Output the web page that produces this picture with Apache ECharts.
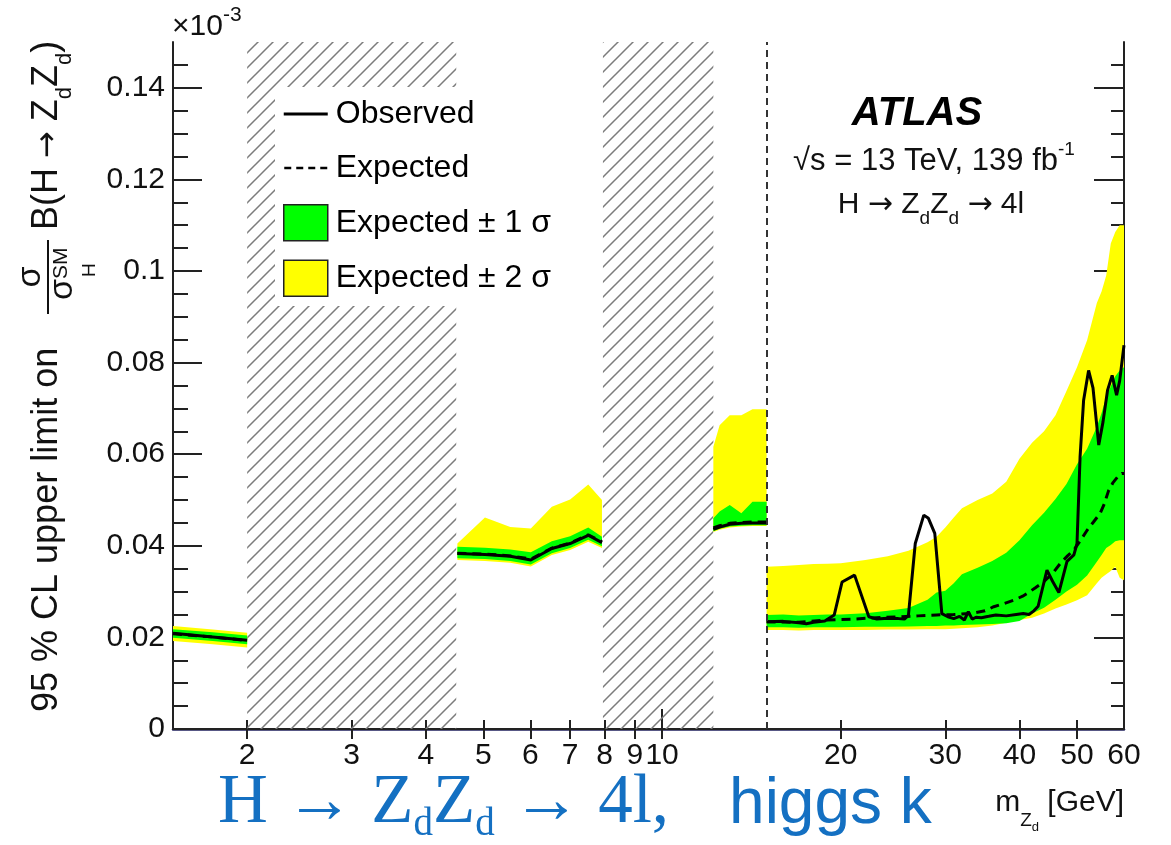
<!DOCTYPE html>
<html>
<head>
<meta charset="utf-8">
<script src="https://cdn.jsdelivr.net/npm/echarts@6/dist/echarts.min.js"></script>
<style>html,body{margin:0;padding:0;background:#fff}#chart{width:1171px;height:845px}</style>
</head>
<body>
<div id="chart"></div>
<script>
// ---------------- data ----------------
// Segment A : 1.5 - 2 GeV
const massA  = [1.5, 1.75, 2.0];
const obsA   = [0.0209, 0.0201, 0.0194];
const expA   = [0.0208, 0.0201, 0.0193];
const g1upA  = [0.0218, 0.0211, 0.0204];
const g1dnA  = [0.0199, 0.0192, 0.0185];
const y2upA  = [0.0225, 0.0217, 0.0210];
const y2dnA  = [0.0192, 0.0185, 0.0178];
// Segment B : 4.5 - 8 GeV
const massB  = [4.52, 5.03, 5.55, 6.01, 6.52, 7.0, 7.51, 7.92];
const obsB   = [0.0383, 0.0381, 0.0377, 0.0369, 0.0394, 0.0405, 0.0423, 0.0407];
const expB   = [0.0384, 0.0382, 0.0378, 0.0371, 0.0395, 0.0406, 0.0424, 0.0409];
const g1upB  = [0.0398, 0.0396, 0.0392, 0.0386, 0.0410, 0.0421, 0.0440, 0.0420];
const g1dnB  = [0.0373, 0.0371, 0.0367, 0.0359, 0.0384, 0.0395, 0.0413, 0.0399];
const y2upB  = [0.0405, 0.0462, 0.0441, 0.0438, 0.0485, 0.0501, 0.0534, 0.0500];
const y2dnB  = [0.0369, 0.0367, 0.0363, 0.0355, 0.0380, 0.0391, 0.0409, 0.0395];
// Segment C : 12.2 - 15 GeV
const massC  = [12.2, 12.5, 13.0, 13.6, 14.2, 15.0];
const obsC   = [0.0436, 0.0441, 0.0447, 0.0449, 0.0450, 0.0450];
const expC   = [0.0439, 0.0444, 0.0449, 0.0451, 0.0452, 0.0452];
const g1upC  = [0.0460, 0.0475, 0.0489, 0.0471, 0.0496, 0.0496];
const g1dnC  = [0.0432, 0.0437, 0.0442, 0.0444, 0.0445, 0.0445];
const y2upC  = [0.0616, 0.0663, 0.0685, 0.0685, 0.0698, 0.0698];
const y2dnC  = [0.0430, 0.0435, 0.0440, 0.0442, 0.0443, 0.0443];
// Segment D : 15 - 60 GeV
const obsMassD = [15.0, 16.0, 17.0, 17.5, 18.0, 18.8, 19.5, 20.1, 21.1, 22.3, 23.0, 24.0, 25.0, 25.6, 26.0, 26.7, 27.6, 28.1, 28.8, 29.6, 30.3, 31.0, 31.7, 32.3, 32.8, 33.3, 33.8, 34.5, 35.5, 36.5, 38.0, 39.5, 40.6, 41.5, 42.3, 43.0, 44.5, 45.5, 46.6, 48.1, 49.4, 50.0, 50.6, 51.3, 52.3, 53.2, 54.4, 55.3, 56.3, 57.3, 58.3, 59.0, 60.0];
const obsD     = [0.0234, 0.0235, 0.0232, 0.0230, 0.0233, 0.0236, 0.0249, 0.0321, 0.0336, 0.0245, 0.0240, 0.0242, 0.0241, 0.0240, 0.0248, 0.0405, 0.0467, 0.0460, 0.0427, 0.0252, 0.0245, 0.0241, 0.0246, 0.0238, 0.0256, 0.0240, 0.0244, 0.0243, 0.0246, 0.0249, 0.0247, 0.0250, 0.0252, 0.0250, 0.0258, 0.0268, 0.0347, 0.0322, 0.0298, 0.0366, 0.0380, 0.0405, 0.0594, 0.0718, 0.0783, 0.0745, 0.0620, 0.0670, 0.0740, 0.0772, 0.0729, 0.0760, 0.0838];
const expMassD = [15, 17, 19, 21, 23, 25, 27, 29, 31, 33, 35, 36.2, 37.5, 39.1, 40.5, 41.2, 42.5, 43.9, 45.5, 46.9, 48.2, 49.4, 50.7, 52.0, 53.3, 54.7, 55.6, 56.5, 57.5, 58.5, 59.5, 60];
const expD     = [0.0234, 0.0233, 0.0238, 0.0240, 0.0243, 0.0245, 0.0247, 0.0249, 0.0250, 0.0252, 0.0258, 0.0267, 0.0273, 0.0281, 0.0290, 0.0296, 0.0308, 0.0321, 0.0340, 0.0362, 0.0378, 0.0391, 0.0412, 0.0434, 0.0452, 0.0471, 0.0492, 0.0520, 0.0538, 0.0550, 0.0558, 0.0558];
const bandMassD = [15, 16, 17, 18, 19, 20, 22, 24, 26, 28, 29, 30, 31, 32, 34, 36, 38, 40, 42, 44, 46, 48, 50, 52, 54, 55, 56, 57, 58, 59, 60];
const g1upD = [0.0249, 0.0250, 0.0248, 0.0249, 0.0250, 0.0250, 0.0253, 0.0258, 0.0264, 0.0282, 0.0298, 0.0302, 0.0318, 0.0338, 0.0352, 0.0367, 0.0385, 0.0412, 0.0445, 0.0472, 0.0502, 0.0535, 0.0578, 0.0612, 0.0660, 0.0690, 0.0725, 0.0748, 0.0770, 0.0783, 0.0790];
const g1dnD = [0.0222, 0.0222, 0.0221, 0.0222, 0.0222, 0.0222, 0.0223, 0.0223, 0.0224, 0.0225, 0.0225, 0.0226, 0.0226, 0.0227, 0.0228, 0.0229, 0.0231, 0.0236, 0.0252, 0.0265, 0.0282, 0.0300, 0.0315, 0.0335, 0.0365, 0.0380, 0.0395, 0.0402, 0.0410, 0.0412, 0.0412];
const y2upD = [0.0354, 0.0356, 0.0358, 0.0360, 0.0361, 0.0362, 0.0369, 0.0377, 0.0389, 0.0408, 0.0420, 0.0440, 0.0462, 0.0482, 0.0500, 0.0514, 0.0540, 0.0590, 0.0625, 0.0650, 0.0685, 0.0738, 0.0790, 0.0849, 0.0930, 0.0955, 0.0990, 0.1060, 0.1085, 0.1100, 0.1100];
const y2dnD = [0.0216, 0.0216, 0.0215, 0.0216, 0.0216, 0.0216, 0.0216, 0.0217, 0.0217, 0.0218, 0.0218, 0.0218, 0.0219, 0.0220, 0.0222, 0.0226, 0.0232, 0.0238, 0.0243, 0.0252, 0.0263, 0.0272, 0.0281, 0.0292, 0.0318, 0.0330, 0.0338, 0.0345, 0.0354, 0.0330, 0.0325];
// excluded (hatched) mass ranges and the boundary marker
const hatchRanges = [[2.0, 4.5], [7.95, 12.2]];
const boundaryMass = 15;
// axis ticks / labels
const xLabelValues = [2, 3, 4, 5, 6, 7, 8, 9, 10, 20, 30, 40, 50, 60];
const xMinorTicks  = [2, 3, 4, 5, 6, 7, 8, 9, 20, 30, 40, 50];
const xMajorTicks  = [10];
const yMajorTicks  = [0, 0.02, 0.04, 0.06, 0.08, 0.1, 0.12, 0.14];
const yMinorTicks  = [0.005, 0.01, 0.015, 0.025, 0.03, 0.035, 0.045, 0.05, 0.055, 0.065, 0.07, 0.075, 0.085, 0.09, 0.095, 0.105, 0.11, 0.115, 0.125, 0.13, 0.135, 0.145];

// ---------------- chart ----------------
const SANS = '"Liberation Sans", Arial, Helvetica, sans-serif';
const SERIF = '"Liberation Serif", "Times New Roman", serif';
const ARROW = '"DejaVu Sans", sans-serif';
const BLUE = '#1470c2';

function pairs(ms, vs) { return ms.map((m, i) => [m, vs[i]]); }

function hatchCanvas() {
  const s = 15;
  const c = document.createElement('canvas');
  c.width = s; c.height = s;
  const g = c.getContext('2d');
  g.strokeStyle = '#7c7c7c';
  g.lineWidth = 1.5;
  g.beginPath();
  g.moveTo(-1, s + 1); g.lineTo(s + 1, -1);
  g.moveTo(-s / 2 - 1, s / 2 + 1); g.lineTo(s / 2 + 1, -s / 2 - 1);
  g.moveTo(s / 2 - 1, s * 1.5 + 1); g.lineTo(s * 1.5 + 1, s / 2 - 1);
  g.stroke();
  return c;
}

const yellowSegs = [[massA, y2upA, y2dnA], [massB, y2upB, y2dnB], [massC, y2upC, y2dnC], [bandMassD, y2upD, y2dnD]];
const greenSegs  = [[massA, g1upA, g1dnA], [massB, g1upB, g1dnB], [massC, g1upC, g1dnC], [bandMassD, g1upD, g1dnD]];
const obsSegs = [[massA, obsA], [massB, obsB], [massC, obsC], [obsMassD, obsD]];
const expSegs = [[massA, expA], [massB, expB], [massC, expC], [expMassD, expD]];

function bandSeries(name, color, segs) {
  return {
    type: 'custom', name: name, xAxisIndex: 0, yAxisIndex: 0, silent: true,
    data: segs.map(s => [s[0][0], s[1][0]]),
    encode: { x: 0, y: 1 },
    itemStyle: { color: color },
    renderItem: function (params, api) {
      const s = segs[params.dataIndex];
      const pts = [];
      for (let i = 0; i < s[0].length; i++) pts.push(api.coord([s[0][i], s[1][i]]));
      for (let i = s[0].length - 1; i >= 0; i--) pts.push(api.coord([s[0][i], s[2][i]]));
      return { type: 'polygon', shape: { points: pts }, style: { fill: color } };
    }
  };
}

const series = [];
series.push(bandSeries('Expected ± 2 σ', '#ffff00', yellowSegs));
series.push(bandSeries('Expected ± 1 σ', '#00ff00', greenSegs));
expSegs.forEach(s => series.push({
  type: 'line', name: 'Expected', data: pairs(s[0], s[1]), symbol: 'none', silent: true,
  lineStyle: { color: '#000', width: 3, type: [9, 6] }, itemStyle: { color: '#000' }
}));
obsSegs.forEach((s, k) => {
  const o = {
    type: 'line', name: 'Observed', data: pairs(s[0], s[1]), symbol: 'none', silent: true,
    lineStyle: { color: '#000', width: 3 }, itemStyle: { color: '#000' }
  };
  if (k === 0) {
    o.markArea = {
      silent: true,
      itemStyle: { color: { image: hatchCanvas(), repeat: 'repeat' } },
      data: hatchRanges.map(r => [{ coord: [r[0], 0] }, { coord: [r[1], 0.15] }])
    };
    o.markLine = {
      silent: true, symbol: ['none', 'none'], label: { show: false },
      lineStyle: { color: '#333', width: 2, type: [7, 5] },
      data: [[{ coord: [boundaryMass, 0] }, { coord: [boundaryMass, 0.15] }]]
    };
  }
  series.push(o);
});

// legend icons: solid and dashed line glyphs with a 44x36 bounding box
const ICON_SOLID  = 'path://M0,0h0.05v0.05h-0.05z M0,16.5h44v3h-44z M0,35.95h0.05v0.05h-0.05z';
const ICON_DASHED = 'path://M0,0h0.05v0.05h-0.05z M0,16.75h7v2.5h-7z M12,16.75h7v2.5h-7z M24,16.75h7v2.5h-7z M36,16.75h7v2.5h-7z M0,35.95h0.05v0.05h-0.05z';

const xBase = { type: 'log', logBase: 10, min: 1.5, max: 60, gridIndex: 0, splitLine: { show: false } };
const yBase = { type: 'value', min: 0, max: 0.15, interval: 0.02, gridIndex: 0, splitLine: { show: false } };
const tickLine = { color: '#222', width: 2 };

const option = {
  animation: false,
  backgroundColor: '#fff',
  textStyle: { fontFamily: SANS },
  grid: { left: 173, right: 47, top: 42, bottom: 116, containLabel: false },
  xAxis: [
    Object.assign({}, xBase, {
      position: 'bottom',
      axisLine: { show: true, lineStyle: { color: '#22225e', width: 2.5 } },
      axisTick: { show: true, inside: true, length: 9, customValues: xMinorTicks, lineStyle: tickLine },
      axisLabel: { show: true, customValues: xLabelValues, formatter: v => String(Math.round(v)), fontSize: 30, color: '#111', margin: 12, fontFamily: SANS }
    }),
    Object.assign({}, xBase, {
      position: 'bottom',
      axisLine: { show: false },
      axisTick: { show: true, inside: true, length: 20, customValues: xMajorTicks, lineStyle: tickLine },
      axisLabel: { show: false }
    }),
    Object.assign({}, xBase, {
      position: 'top',
      axisLine: { show: true, lineStyle: { color: '#222', width: 2 } },
      axisTick: { show: true, inside: true, length: 10, customValues: xMinorTicks.concat(xMajorTicks), lineStyle: tickLine },
      axisLabel: { show: false }
    })
  ],
  yAxis: [
    Object.assign({}, yBase, {
      position: 'left',
      axisLine: { show: true, lineStyle: { color: '#222', width: 2 } },
      axisTick: { show: true, inside: true, length: 29, customValues: yMajorTicks, lineStyle: tickLine },
      axisLabel: { show: true, customValues: yMajorTicks, fontSize: 30, color: '#111', margin: 8, fontFamily: SANS,
        formatter: v => (v === 0 ? '0' : String(parseFloat(v.toFixed(2)))) }
    }),
    Object.assign({}, yBase, {
      position: 'left',
      axisLine: { show: false },
      axisTick: { show: true, inside: true, length: 15, customValues: yMinorTicks, lineStyle: tickLine },
      axisLabel: { show: false }
    }),
    Object.assign({}, yBase, {
      position: 'right',
      axisLine: { show: true, lineStyle: { color: '#222', width: 2 } },
      axisTick: { show: true, inside: true, length: 30, customValues: yMajorTicks, lineStyle: tickLine },
      axisLabel: { show: false }
    }),
    Object.assign({}, yBase, {
      position: 'right',
      axisLine: { show: false },
      axisTick: { show: true, inside: true, length: 13, customValues: yMinorTicks, lineStyle: tickLine },
      axisLabel: { show: false }
    })
  ],
  legend: {
    orient: 'vertical', left: 275, top: 87,
    itemWidth: 44, itemHeight: 36, itemGap: 18,
    padding: [9, 14, 9, 8],
    backgroundColor: '#fff',
    selectedMode: false,
    textStyle: { fontSize: 32, color: '#000', fontFamily: SANS, padding: [0, 0, 0, 3] },
    data: [
      { name: 'Observed', icon: ICON_SOLID, itemStyle: { color: '#000', borderWidth: 0 } },
      { name: 'Expected', icon: ICON_DASHED, itemStyle: { color: '#000', borderWidth: 0 } },
      { name: 'Expected ± 1 σ', icon: 'rect', itemStyle: { borderColor: '#222', borderWidth: 1.5 } },
      { name: 'Expected ± 2 σ', icon: 'rect', itemStyle: { borderColor: '#222', borderWidth: 1.5 } }
    ]
  },
  graphic: { elements: [
    // x10^-3 multiplier
    { type: 'text', x: 172, y: 0, style: {
      text: '{a|×10}{b|-3}', textVerticalAlign: 'top', fill: '#111',
      rich: { a: { fontSize: 30, fontFamily: SANS, lineHeight: 30, padding: [12, 0, 0, 0], verticalAlign: 'top', fill: '#111' },
              b: { fontSize: 21, fontFamily: SANS, lineHeight: 21, padding: [5, 0, 0, 0], verticalAlign: 'top', fill: '#111' } } } },
    // ATLAS label
    { type: 'text', x: 917, y: 114, style: { text: 'ATLAS', font: 'italic bold 40px ' + SANS, fill: '#000', textAlign: 'center', textVerticalAlign: 'middle' } },
    { type: 'text', x: 934, y: 136, style: {
      text: '{a|√s = 13 TeV, 139 fb}{b|-1}', textAlign: 'center', textVerticalAlign: 'top', fill: '#111',
      rich: { a: { fontSize: 31, fontFamily: SANS, lineHeight: 31, padding: [10, 0, 0, 0], verticalAlign: 'top', fill: '#111' },
              b: { fontSize: 19, fontFamily: SANS, lineHeight: 19, padding: [4, 0, 0, 0], verticalAlign: 'top', fill: '#111' } } } },
    { type: 'text', x: 931, y: 190, style: {
      text: '{a|H }{r|→}{a| Z}{b|d}{a|Z}{b|d}{a| }{r|→}{a| 4l}', textAlign: 'center', textVerticalAlign: 'top', fill: '#111',
      rich: { a: { fontSize: 30, fontFamily: SANS, lineHeight: 30, verticalAlign: 'top', fill: '#111' },
              r: { fontSize: 30, fontFamily: ARROW, lineHeight: 30, verticalAlign: 'top', fill: '#111' },
              b: { fontSize: 19, fontFamily: SANS, lineHeight: 19, padding: [19, 0, 0, 0], verticalAlign: 'top', fill: '#111' } } } },
    // x axis title
    { type: 'text', x: 1124, y: 788, style: {
      text: '{n|m}{z|Z}{d|d}{n| [GeV]}', textAlign: 'right', textVerticalAlign: 'top', fill: '#111',
      rich: { n: { fontSize: 30, fontFamily: SANS, lineHeight: 30, verticalAlign: 'top', fill: '#111' },
              z: { fontSize: 19, fontFamily: SANS, lineHeight: 19, padding: [23, 0, 0, 0], verticalAlign: 'top', fill: '#111' },
              d: { fontSize: 13, fontFamily: SANS, lineHeight: 13, padding: [33, 0, 0, 0], verticalAlign: 'top', fill: '#111' } } } },
    // blue caption
    { type: 'text', x: 218, y: 769, style: {
      text: '{s|H → Z}{d|d}{s|Z}{d|d}{s| → 4l,}{k|higgs k}', textVerticalAlign: 'top', fill: BLUE,
      rich: { s: { fontSize: 69, fontFamily: SERIF, lineHeight: 70, verticalAlign: 'top', fill: BLUE },
              d: { fontSize: 39, fontFamily: SERIF, lineHeight: 39, padding: [36, 0, 0, 0], verticalAlign: 'top', fill: BLUE },
              k: { fontSize: 64, fontFamily: SANS, lineHeight: 64, padding: [4, 0, 0, 60], verticalAlign: 'top', fill: BLUE } } } },
    // y axis title (rotated group)
    { type: 'group', x: 0, y: 712, rotation: Math.PI / 2, children: [
      { type: 'text', x: 0, y: 47.5, style: { text: '95 % CL upper limit on', font: '36px ' + SANS, fill: '#111', textAlign: 'left', textVerticalAlign: 'middle' } },
      { type: 'line', shape: { x1: 398, y1: 48, x2: 472, y2: 48 }, style: { stroke: '#111', lineWidth: 2 } },
      { type: 'text', x: 435, y: 31, style: { text: 'σ', font: '34px ' + SANS, fill: '#111', textAlign: 'center', textVerticalAlign: 'middle' } },
      { type: 'text', x: 412, y: 63, style: { text: 'σ', font: '34px ' + SANS, fill: '#111', textAlign: 'left', textVerticalAlign: 'middle' } },
      { type: 'text', x: 433, y: 61, style: { text: 'SM', font: '21px ' + SANS, fill: '#111', textAlign: 'left', textVerticalAlign: 'middle' } },
      { type: 'text', x: 435, y: 90, style: { text: 'H', font: '19px ' + SANS, fill: '#111', textAlign: 'left', textVerticalAlign: 'middle' } },
      { type: 'text', x: 482, y: 29.5, style: {
        text: '{a|B(H }{r|→}{a| Z}{s|d}{a|Z}{s|d}{a|)}', textAlign: 'left', textVerticalAlign: 'top', fill: '#111',
        rich: { a: { fontSize: 36, fontFamily: SANS, lineHeight: 36, verticalAlign: 'top', fill: '#111' },
                r: { fontSize: 32, fontFamily: ARROW, lineHeight: 32, padding: [3, 0, 0, 0], verticalAlign: 'top', fill: '#111' },
                s: { fontSize: 22, fontFamily: SANS, lineHeight: 22, padding: [24, 0, 0, 0], verticalAlign: 'top', fill: '#111' } } } }
    ] }
  ] },
  series: series
};

const chart = echarts.init(document.getElementById('chart'), null, { renderer: 'canvas' });
chart.setOption(option);
</script>
</body>
</html>
